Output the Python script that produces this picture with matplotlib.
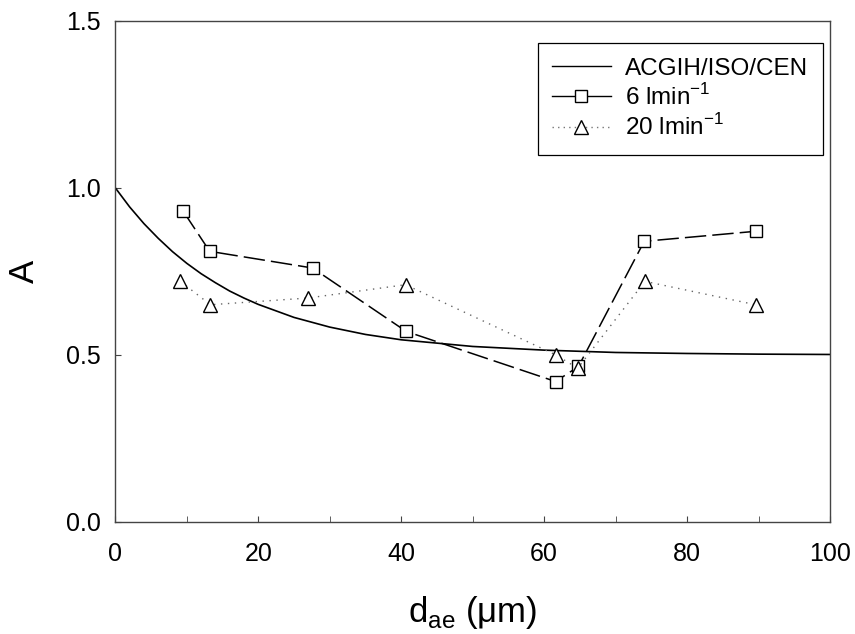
from matplotlib import pyplot as plt
from matplotlib.lines import Line2D
from matplotlib.ticker import MultipleLocator

plt.rcParams['font.family'] = ['Liberation Sans', 'DejaVu Sans']

# ACGIH/ISO/CEN inhalable convention
conv_d = [0, 2, 4, 6, 8, 10, 12, 14, 16, 18, 20, 25, 30, 35, 40, 50, 60, 70, 80, 90, 100]
conv_a = [1.0, 0.943, 0.893, 0.849, 0.809, 0.774, 0.743, 0.716, 0.691, 0.670, 0.651,
          0.612, 0.583, 0.561, 0.545, 0.525, 0.514, 0.507, 0.504, 0.502, 0.501]

# 6 l/min
d6 = [9.5, 13.2, 27.6, 40.7, 61.6, 64.8, 74.0, 89.6]
a6 = [0.93, 0.81, 0.76, 0.57, 0.42, 0.465, 0.84, 0.87]

# 20 l/min
d20 = [9.1, 13.3, 26.9, 40.6, 61.6, 64.7, 74.1, 89.6]
a20 = [0.72, 0.65, 0.67, 0.71, 0.50, 0.46, 0.72, 0.65]

fig = plt.figure(figsize=(8.55, 6.34), dpi=100)
ax = fig.add_axes([0.1349, 0.1771, 0.8359, 0.7898])

ax.plot(conv_d, conv_a, color='black', lw=1.2)
ax.plot(d6, a6, color='black', lw=1.1, dashes=(14, 4), marker='s', ms=9,
        mfc='white', mec='black', mew=1.0)
ax.plot(d20, a20, color='#666666', lw=1.0, ls=(0, (1, 4)), marker='^', ms=10,
        mfc='white', mec='black', mew=1.0)

ax.set_xlim(0, 100)
ax.set_ylim(0, 1.5)
ax.xaxis.set_major_locator(MultipleLocator(20))
ax.xaxis.set_minor_locator(MultipleLocator(10))
ax.yaxis.set_major_locator(MultipleLocator(0.5))
ax.yaxis.set_major_formatter(plt.FormatStrFormatter('%.1f'))
ax.tick_params(which='both', direction='in', labelsize=18, color='#444444', length=4.5)
ax.tick_params(axis='x', pad=14.5)
ax.tick_params(axis='y', pad=10.5)
for s in ax.spines.values():
    s.set_color('#444444')
    s.set_linewidth(1.0)

ax.set_xlabel(r'd$_{\mathregular{ae}}$ (μm)', fontsize=25, labelpad=20)
ax.set_ylabel('A', fontsize=25, labelpad=18)

handles = [
    Line2D([], [], color='black', lw=1.0),
    Line2D([], [], color='black', lw=1.0, marker='s', ms=9, mfc='white', mec='black'),
    Line2D([], [], color='#777777', lw=1.0, ls=(0, (1, 3)), marker='^', ms=10,
           mfc='white', mec='black'),
]
labels = ['ACGIH/ISO/CEN', r'6 lmin$^{\mathregular{-1}}$', r'20 lmin$^{\mathregular{-1}}$']
leg = ax.legend(handles, labels, loc='upper right', bbox_to_anchor=(0.990, 0.956),
                borderaxespad=0, fontsize=17.5, fancybox=False, edgecolor='black',
                framealpha=1, handlelength=2.4, borderpad=0.6, labelspacing=0.18,
                handletextpad=0.6)
leg.get_frame().set_linewidth(0.9)

plt.savefig('out.png', dpi=100)
